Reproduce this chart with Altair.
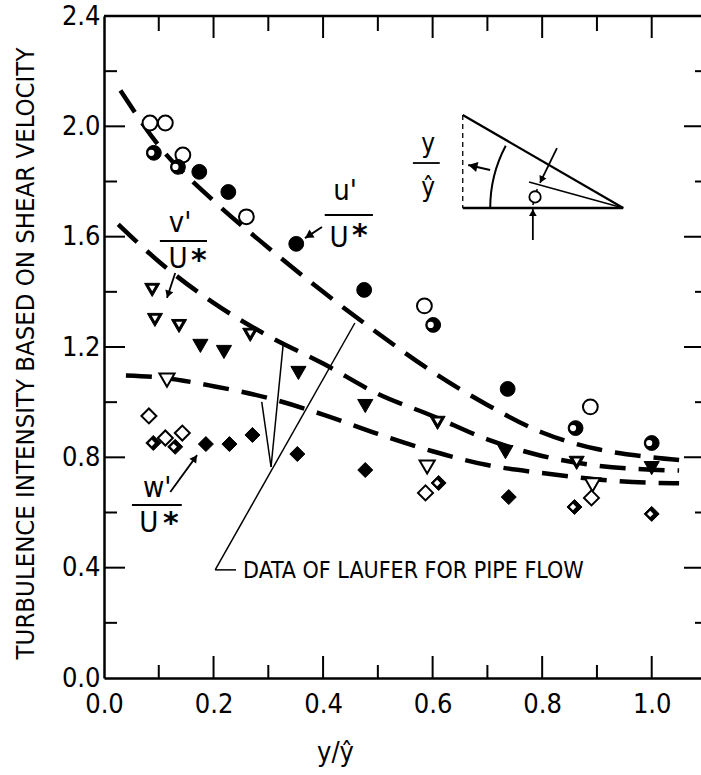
import math
import altair as alt
import pandas as pd

# ---------------- data ----------------
# u'/U* : circles (open / half-filled / filled)
u_open_x = [0.084, 0.112, 0.144, 0.260, 0.585, 0.888]
u_open_y = [2.012, 2.012, 1.896, 1.672, 1.349, 0.983]
u_half_x = [0.091, 0.135, 0.601, 0.861, 1.000]
u_half_y = [1.904, 1.853, 1.280, 0.906, 0.852]
u_fill_x = [0.174, 0.227, 0.351, 0.475, 0.737]
u_fill_y = [1.835, 1.762, 1.574, 1.407, 1.048]

# v'/U* : inverted triangles
v_open_x = [0.115, 0.590, 0.892]
v_open_y = [1.080, 0.765, 0.700]
v_half_x = [0.088, 0.093, 0.137, 0.267, 0.609, 0.863]
v_half_y = [1.407, 1.298, 1.276, 1.244, 0.925, 0.780]
v_fill_x = [0.176, 0.219, 0.355, 0.477, 0.733, 1.000]
v_fill_y = [1.204, 1.182, 1.106, 0.986, 0.819, 0.761]

# w'/U* : diamonds
w_open_x = [0.082, 0.112, 0.143, 0.587, 0.890]
w_open_y = [0.950, 0.870, 0.888, 0.671, 0.653]
w_half_x = [0.090, 0.130, 0.611, 0.859, 1.000]
w_half_y = [0.852, 0.838, 0.707, 0.620, 0.595]
w_fill_x = [0.186, 0.229, 0.271, 0.353, 0.477, 0.739]
w_fill_y = [0.848, 0.848, 0.881, 0.812, 0.754, 0.656]

# Laufer pipe-flow curves (dashed)
lu_x = [0.03, 0.10, 0.20, 0.30, 0.40, 0.50, 0.60, 0.70, 0.80, 0.90, 1.00, 1.05]
lu_y = [2.13, 1.93, 1.73, 1.56, 1.40, 1.25, 1.11, 0.99, 0.89, 0.83, 0.80, 0.79]
lv_x = [0.026, 0.10, 0.20, 0.30, 0.40, 0.50, 0.60, 0.70, 0.80, 0.90, 1.00, 1.05]
lv_y = [1.645, 1.51, 1.36, 1.24, 1.14, 1.03, 0.95, 0.865, 0.805, 0.77, 0.755, 0.752]
lw_x = [0.04, 0.10, 0.20, 0.30, 0.40, 0.50, 0.60, 0.70, 0.80, 0.90, 1.00, 1.05]
lw_y = [1.097, 1.09, 1.058, 1.015, 0.955, 0.885, 0.822, 0.772, 0.743, 0.72, 0.708, 0.706]

# axis labels and ticks
x_labels = [0.0, 0.2, 0.4, 0.6, 0.8, 1.0]
y_labels = [0.0, 0.4, 0.8, 1.2, 1.6, 2.0, 2.4]
x_major = [0.2, 0.4, 0.6, 0.8, 1.0]
x_minor = [0.1, 0.3, 0.5, 0.7, 0.9]
y_major = [0.4, 0.8, 1.2, 1.6, 2.0]
y_minor = [0.2, 0.6, 1.0, 1.4, 1.8, 2.2]

# ---------------- layout ----------------
XMAX, YMAX = 1.09, 2.4
W, H = 597, 662
SX, SY = W / XMAX, H / YMAX
FONT = "Liberation Sans Narrow, DejaVu Sans Condensed, Arial Narrow, sans-serif"

xsc = alt.Scale(domain=[0, XMAX], nice=False, zero=False)
ysc = alt.Scale(domain=[0, YMAX], nice=False, zero=False)

XAX = alt.Axis(
    values=x_labels, format=".1f", ticks=False, grid=False, domainColor="black",
    domainWidth=2.5, labelFont=FONT, labelFontSize=27, labelColor="black",
    labelPadding=13, labelFlush=False, labelOverlap=False,
    title="y/ŷ", titleFont=FONT, titleFontSize=27, titleFontWeight="normal",
    titleColor="black", titleX=231, titleY=74, titleAlign="center",
    titleBaseline="middle")
YAX = alt.Axis(
    values=y_labels, format=".1f", ticks=False, grid=False, domainColor="black",
    domainWidth=2.5, labelFont=FONT, labelFontSize=27, labelColor="black",
    labelPadding=4, labelFlush=False, labelOverlap=False,
    title="TURBULENCE INTENSITY BASED ON SHEAR VELOCITY", titleFont=FONT,
    titleFontSize=25.5, titleFontWeight="normal", titleColor="black",
    titleX=-79, titleY=337, titleAngle=270, titleAlign="center",
    titleBaseline="middle")


def enc(**extra):
    d = dict(x=alt.X("x:Q", scale=xsc, axis=XAX), y=alt.Y("y:Q", scale=ysc, axis=YAX))
    d.update(extra)
    return d


def pts(xs, ys, shape, size, fill, stroke, sw, xo=0, yo=0):
    df = pd.DataFrame({"x": xs, "y": ys})
    return alt.Chart(df).mark_point(shape=shape, size=size, filled=True, fill=fill,
                                    stroke=stroke, strokeWidth=sw, opacity=1,
                                    fillOpacity=1, xOffset=xo, yOffset=yo).encode(**enc())


layers = []

# top frame line
layers.append(alt.Chart(pd.DataFrame({"y": [YMAX]})).mark_rule(color="black", strokeWidth=2.5)
              .encode(y=alt.Y("y:Q", scale=ysc, axis=YAX)))


# inward ticks
def ticks_h(xval, yvals, size, xo):
    df = pd.DataFrame({"x": [xval] * len(yvals), "y": yvals})
    return alt.Chart(df).mark_tick(orient="horizontal", size=size, thickness=2,
                                   color="black", opacity=1, xOffset=xo).encode(**enc())


def ticks_v(yval, xvals, size, yo):
    df = pd.DataFrame({"x": xvals, "y": [yval] * len(xvals)})
    return alt.Chart(df).mark_tick(orient="vertical", size=size, thickness=2,
                                   color="black", opacity=1, yOffset=yo).encode(**enc())


layers += [
    ticks_h(0.0, y_major, 21, 10.5), ticks_h(0.0, y_minor, 13, 6.5),
    ticks_h(XMAX, y_major, 34, 0), ticks_h(XMAX, y_minor, 12, 0),
    ticks_v(0.0, x_major, 22, -11), ticks_v(0.0, x_minor, 13, -6.5),
    ticks_v(YMAX, x_major, 22, 11), ticks_v(YMAX, x_minor, 15, 7.5),
]

# dashed Laufer curves
cur = pd.DataFrame({
    "x": lu_x + lv_x + lw_x,
    "y": lu_y + lv_y + lw_y,
    "c": ["u"] * len(lu_x) + ["v"] * len(lv_x) + ["w"] * len(lw_x),
})
layers.append(alt.Chart(cur).mark_line(color="black", strokeWidth=4.5, strokeDash=[26, 13],
                                       interpolate="monotone")
              .encode(**enc(detail="c:N")))

# annotation line segments (data units)
seg_x1 = [0.458, 0.203, 0.305, 0.305, 0.398, 0.130, 0.121,
          0.655, 0.655, 0.948, 0.705, 0.827, 0.783, 0.791,
          0.403, 0.102, 0.051, 0.564]
seg_y1 = [1.287, 0.392, 0.765, 0.765, 1.635, 1.468, 0.674,
          2.041, 1.704, 1.704, 1.842, 1.921, 1.588, 1.773,
          1.679, 1.584, 0.627, 1.867]
seg_x2 = [0.203, 0.241, 0.327, 0.288, 0.367, 0.115, 0.170,
          0.948, 0.948, 0.776, 0.665, 0.796, 0.783, 0.783,
          0.491, 0.188, 0.142, 0.613]
seg_y2 = [0.392, 0.392, 1.207, 1.001, 1.595, 1.378, 0.808,
          1.704, 1.704, 1.798, 1.860, 1.795, 1.700, 1.715,
          1.679, 1.584, 0.627, 1.867]
seg_w = [1.5, 1.5, 1.5, 1.5, 2, 1.8, 1.8,
         2.2, 2.4, 1.5, 2, 1.8, 1.8, 1.5,
         2, 2, 2, 1.8]
seg = pd.DataFrame({"x": seg_x1, "y": seg_y1, "x2": seg_x2, "y2": seg_y2, "w": seg_w})
layers.append(alt.Chart(seg).mark_rule(color="black").encode(
    **enc(x2="x2:Q", y2="y2:Q", strokeWidth=alt.StrokeWidth("w:Q", scale=None))))

# dashed vertical in inset
layers.append(alt.Chart(pd.DataFrame({"x": [0.655], "y": [2.041], "y2": [1.704]}))
              .mark_rule(color="black", strokeWidth=1.3, strokeDash=[5, 4])
              .encode(**enc(y2="y2:Q")))

# arc in inset, centred on right vertex
layers.append(alt.Chart(pd.DataFrame({"x": [0.948], "y": [1.704]}))
              .mark_arc(theta=4.712, theta2=5.20, radius=134, radius2=132, color="black")
              .encode(**enc()))

# small circle in inset
layers.append(pts([0.787], [1.744], "circle", 130, "white", "black", 1.8))

# arrowheads
arrows = [  # tail x, tail y, tip x, tip y, size
    (0.398, 1.635, 0.367, 1.595, 90),
    (0.130, 1.468, 0.115, 1.378, 70),
    (0.121, 0.674, 0.170, 0.808, 70),
    (0.705, 1.842, 0.665, 1.860, 110),
    (0.827, 1.921, 0.796, 1.795, 60),
    (0.783, 1.588, 0.783, 1.700, 60),
]
hx, hy, ha, hs = [], [], [], []
for x1, y1, x2, y2, s in arrows:
    dx, dy = (x2 - x1) * SX, (y2 - y1) * SY
    L = math.hypot(dx, dy)
    back = math.sqrt(s) * 0.45
    hx.append(x2 - dx / L * back / SX)
    hy.append(y2 - dy / L * back / SY)
    ha.append(math.degrees(math.atan2(dx, dy)) % 360)
    hs.append(s)
heads = pd.DataFrame({"x": hx, "y": hy, "a": ha, "s": hs})
layers.append(alt.Chart(heads).mark_point(shape="triangle-up", filled=True, color="black",
                                          opacity=1)
              .encode(**enc(angle=alt.Angle("a:Q", scale=None),
                            size=alt.Size("s:Q", scale=None))))

# data markers
CS, TS, DS = 220, 230, 225
layers += [
    pts(u_open_x, u_open_y, "circle", CS, "white", "black", 2),
    pts(u_fill_x, u_fill_y, "circle", CS, "black", "black", 1),
    pts(u_half_x, u_half_y, "circle", CS, "black", "black", 1),
    pts(u_half_x, u_half_y, "circle", 38, "white", "white", 0, xo=-2.5),
    pts(v_open_x, v_open_y, "triangle-down", TS, "white", "black", 2),
    pts(v_fill_x, v_fill_y, "triangle-down", TS, "black", "black", 1),
    pts(v_half_x, v_half_y, "triangle-down", TS, "black", "black", 1),
    pts(v_half_x, v_half_y, "triangle-down", 40, "white", "white", 0, yo=-1.5),
    pts(w_open_x, w_open_y, "diamond", DS, "white", "black", 2),
    pts(w_fill_x, w_fill_y, "diamond", DS, "black", "black", 1),
    pts(w_half_x, w_half_y, "diamond", DS, "black", "black", 1),
    pts(w_half_x, w_half_y, "diamond", 40, "white", "white", 0, xo=-1.5),
]

# texts
lab_t = ["u'", "U", "v'", "U", "w'", "U"]
lab_x = [0.440, 0.429, 0.139, 0.135, 0.097, 0.082]
lab_y = [1.733, 1.563, 1.617, 1.486, 0.656, 0.529]
layers.append(alt.Chart(pd.DataFrame({"x": lab_x, "y": lab_y, "t": lab_t}))
              .mark_text(font=FONT, fontSize=29, align="center", baseline="alphabetic",
                         color="black").encode(**enc(text="t:N")))
star_x = [0.467, 0.173, 0.122]
star_y = [1.628, 1.537, 0.584]
layers.append(alt.Chart(pd.DataFrame({"x": star_x, "y": star_y, "t": ["*"] * 3}))
              .mark_text(font="DejaVu Sans", fontWeight="bold", fontSize=30, align="center",
                         baseline="middle", dy=7, color="black").encode(**enc(text="t:N")))
ins_t = ["y", "ŷ"]
ins_x = [0.592, 0.592]
ins_y = [1.907, 1.747]
layers.append(alt.Chart(pd.DataFrame({"x": ins_x, "y": ins_y, "t": ins_t}))
              .mark_text(font=FONT, fontSize=26, align="center", baseline="alphabetic",
                         color="black").encode(**enc(text="t:N")))
layers.append(alt.Chart(pd.DataFrame({"x": [0.254], "y": [0.363],
                                      "t": ["DATA OF LAUFER FOR PIPE FLOW"]}))
              .mark_text(font=FONT, fontSize=23, align="left", baseline="alphabetic",
                         color="black").encode(**enc(text="t:N")))

chart = alt.layer(*layers).properties(
    width=W, height=H,
    autosize=alt.AutoSizeParams(type="none"),
    padding={"left": 104, "top": 16, "right": 0, "bottom": 97},
    background="white",
).configure_view(strokeWidth=0)

chart.save("out.html", embed_options={"renderer": "svg", "actions": False})
